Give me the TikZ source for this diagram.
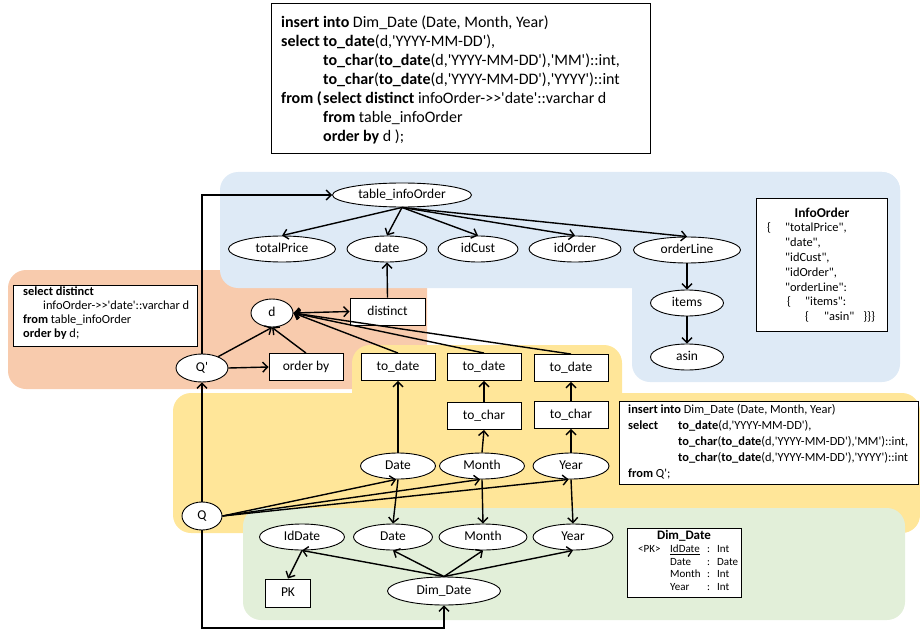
\documentclass[tikz,border=0pt]{standalone}
\usepackage{fontspec}
\setmainfont{Carlito}[Ligatures=TeXOff]
\usetikzlibrary{shapes.geometric,arrows.meta}
\definecolor{bgblue}{RGB}{222,234,246}
\definecolor{bgorange}{RGB}{248,203,173}
\definecolor{bgyellow}{RGB}{255,230,153}
\definecolor{bggreen}{RGB}{226,239,217}
\newcommand{\kcol}[1]{\makebox[42pt][l]{#1}}
\begin{document}
\begin{tikzpicture}[x=1pt,y=-1pt,
  ell/.style={ellipse, draw, fill=white, line width=0.9pt, inner sep=0pt,
    font=\fontsize{13.5}{16}\selectfont, text height=9.5pt, text depth=2.5pt},
  rbox/.style={rectangle, draw, fill=white, line width=0.9pt, inner sep=0pt,
    minimum width=74pt, minimum height=27pt,
    font=\fontsize{13.5}{16}\selectfont, text height=9.5pt, text depth=2.5pt},
  arr/.style={line width=1.4pt, -{Straight Barb[length=5pt,width=10pt]}},
  darr/.style={line width=1.4pt, {Straight Barb[length=5pt,width=10pt]}-{Straight Barb[length=5pt,width=10pt]}},
  codebox/.style={rectangle, draw, fill=white, line width=0.9pt, inner sep=0pt},
  codetext/.style={anchor=north west, inner sep=0pt},
  bg/.style={rounded corners=18pt}
]
\useasboundingbox (0,0) rectangle (920,631);

% background regions
\fill[bgorange, bg] (8,270) rectangle (427,389);
\fill[bgblue, bg] (220,172) rectangle (900,288);
\fill[bgblue, bg] (632,172) rectangle (900,382);
\fill[bgyellow, bg] (352,345) rectangle (622,420);
\fill[bgyellow, bg] (173,393) rectangle (920,533);
\fill[bggreen, bg] (243,508) rectangle (905,620);

% top SQL box
\node[codebox, anchor=north west, minimum width=379pt, minimum height=150pt] (sqlbox) at (271,3) {};
\node[codetext, font=\fontsize{16}{19}\selectfont] (sqltext) at (281,14.5) {%
\begin{tabular}{@{}l@{}l@{}}
\multicolumn{2}{@{}l@{}}{\textbf{insert into} Dim\_Date (Date, Month, Year)}\\
\kcol{\textbf{select}} & \textbf{to\_date}(d,'YYYY-MM-DD'),\\
\kcol{} & \textbf{to\_char}(\textbf{to\_date}(d,'YYYY-MM-DD'),'MM')::int,\\
\kcol{} & \textbf{to\_char}(\textbf{to\_date}(d,'YYYY-MM-DD'),'YYYY')::int\\
\kcol{\textbf{from (}} & \textbf{select distinct} infoOrder->>'date'::varchar d\\
\kcol{} & \textbf{from} table\_infoOrder\\
\kcol{} & \textbf{order by} d );
\end{tabular}};

% left SQL box
\node[codebox, anchor=north west, minimum width=184pt, minimum height=61pt] (leftbox) at (13,285) {};
\node[codetext, font=\fontsize{12.4}{14.2}\selectfont] (lefttext) at (23,285) {%
\begin{tabular}{@{}l@{}}
\textbf{select distinct}\\
\hspace*{20pt}infoOrder->>'date'::varchar d\\
\textbf{from} table\_infoOrder\\
\textbf{order by} d;
\end{tabular}};

% InfoOrder box
\node[codebox, anchor=north west, minimum width=131pt, minimum height=133pt] (infobox) at (756,198) {};
\node[font=\fontsize{13.5}{16}\selectfont\bfseries, inner sep=0pt] (infotitle) at (822,213) {InfoOrder};
\node[codetext, font=\fontsize{12.4}{14.8}\selectfont] (infotext) at (767,221.4) {%
\begin{tabular}{@{}l@{}}
\makebox[18pt][l]{\{}"totalPrice",\\
\hspace*{18pt}"date",\\
\hspace*{18pt}"idCust",\\
\hspace*{18pt}"idOrder",\\
\hspace*{18pt}"orderLine":\\
\hspace*{20pt}\makebox[18pt][l]{\{}"items":\\
\hspace*{38pt}\makebox[19pt][l]{\{}"asin"\hspace*{9pt}\}\}\}
\end{tabular}};

% right SQL box
\node[codebox, anchor=north west, minimum width=299pt, minimum height=83pt] (rightbox) at (619,401) {};
\node[codetext, font=\fontsize{12.4}{16}\selectfont] (righttext) at (628,402.5) {%
\begin{tabular}{@{}p{50pt}@{}l@{}}
\multicolumn{2}{@{}l@{}}{\textbf{insert into} Dim\_Date (Date, Month, Year)}\\
\textbf{select} & \textbf{to\_date}(d,'YYYY-MM-DD'),\\
 & \textbf{to\_char}(\textbf{to\_date}(d,'YYYY-MM-DD'),'MM')::int,\\
 & \textbf{to\_char}(\textbf{to\_date}(d,'YYYY-MM-DD'),'YYYY')::int\\
\multicolumn{2}{@{}l@{}}{\textbf{from} Q';}
\end{tabular}};

% Dim_Date box
\node[codebox, anchor=north west, minimum width=114pt, minimum height=69pt] (dimbox) at (627,528) {};
\node[font=\fontsize{13}{16}\selectfont\bfseries, inner sep=0pt] (dimtitle) at (684,536) {Dim\_Date};
\node[codetext, font=\fontsize{11}{12.7}\selectfont] (dimtext) at (638,543.4) {%
\begin{tabular}{@{}p{32pt}@{}p{37pt}@{}p{10pt}@{}l@{}}
<PK> & \underline{IdDate} & : & Int\\
 & Date & : & Date\\
 & Month & : & Int\\
 & Year & : & Int
\end{tabular}};

% blue region nodes
\node[ell, minimum width=139pt, minimum height=24pt] (tbl) at (402,195) {table\_infoOrder};
\node[ell, minimum width=107pt, minimum height=26pt] (tprice) at (282,249) {totalPrice};
\node[ell, minimum width=80pt, minimum height=26pt] (bdate) at (387,249) {date};
\node[ell, minimum width=80pt, minimum height=26pt] (idcust) at (478,249) {idCust};
\node[ell, minimum width=92pt, minimum height=26pt] (idorder) at (575,249) {idOrder};
\node[ell, minimum width=107pt, minimum height=26pt] (oline) at (687,250) {orderLine};
\node[ell, minimum width=73pt, minimum height=26pt] (items) at (687,303) {items};
\node[ell, minimum width=73pt, minimum height=26pt] (asin) at (687,357) {asin};

% orange region nodes
\node[ell, minimum width=42pt, minimum height=28pt] (d) at (272,313) {d};
\node[rbox, minimum width=75pt] (distinct) at (387.5,311.5) {distinct};
\node[ell, minimum width=52pt, minimum height=28pt] (qp) at (202,368) {Q'};
\node[rbox] (orderby) at (306,367) {order by};

% yellow region nodes
\node[rbox] (todA) at (398,367) {to\_date};
\node[rbox] (todB) at (484,367) {to\_date};
\node[rbox] (todC) at (571,368) {to\_date};
\node[rbox] (tocB) at (484,416) {to\_char};
\node[rbox] (tocC) at (571,415) {to\_char};
\node[ell, minimum width=75pt, minimum height=26pt] (ydate) at (398,466) {Date};
\node[ell, minimum width=85pt, minimum height=26pt] (ymonth) at (482,466) {Month};
\node[ell, minimum width=76pt, minimum height=26pt] (yyear) at (571,466) {Year};
\node[ell, minimum width=40pt, minimum height=28pt] (q) at (202,516) {Q};

% green region nodes
\node[ell, minimum width=85pt, minimum height=26pt] (gid) at (302,537) {IdDate};
\node[ell, minimum width=79pt, minimum height=26pt] (gdate) at (393,537) {Date};
\node[ell, minimum width=88pt, minimum height=26pt] (gmonth) at (483,537) {Month};
\node[ell, minimum width=80pt, minimum height=26pt] (gyear) at (573,537) {Year};
\node[rbox, minimum width=45pt, minimum height=28pt] (pk) at (288,593) {PK};
\node[ell, minimum width=113pt, minimum height=28pt] (dim) at (444,591) {Dim\_Date};
\coordinate (qbot) at (202,628);

% connectors
\draw[arr] (qp.north) |- (tbl.west);
\draw[arr] (tbl.south) -- (tprice.north);
\draw[arr] (tbl.south) -- (bdate.north);
\draw[arr] (tbl.south) -- (idcust.north);
\draw[arr] (tbl.south) -- (idorder.north);
\draw[arr] (tbl.south) -- (oline.north);
\draw[arr] (oline.south) -- (items.north);
\draw[arr] (items.south) -- (asin.north);
\draw[arr] (distinct.north) -- (bdate.south);
\draw[darr] (d.east) -- (distinct.west);
\draw[arr] (qp.35) -- (d.south);
\draw[arr] (qp.east) -- (orderby.west);
\draw[arr] (orderby.north) -- (d.south);
\draw[arr] (todA.north) -- (d.east);
\draw[arr] (todB.north) -- (d.east);
\draw[arr] (todC.north) -- (d.east);
\draw[arr] (ydate.north) -- (todA.south);
\draw[arr] (ymonth.north) -- (tocB.south);
\draw[arr] (tocB.north) -- (todB.south);
\draw[arr] (yyear.north) -- (tocC.south);
\draw[arr] (tocC.north) -- (todC.south);
\draw[arr] (q.north) -- (qp.south);
\draw[arr] (q.east) -- (ydate.262);
\draw[arr] (q.east) -- (ymonth.262);
\draw[arr] (q.east) -- (yyear.260);
\draw[arr] (ydate.south) -- (gdate.north);
\draw[arr] (ymonth.south) -- (gmonth.north);
\draw[arr] (yyear.south) -- (gyear.north);
\draw[arr] (dim.north) -- (gid.south);
\draw[arr] (dim.north) -- (gdate.south);
\draw[arr] (dim.north) -- (gmonth.south);
\draw[arr] (dim.north) -- (gyear.south);
\draw[arr] (gid.south) -- (pk.north);
\draw[arr] (q.south) -- (qbot) -| (dim.south);
\end{tikzpicture}
\end{document}
